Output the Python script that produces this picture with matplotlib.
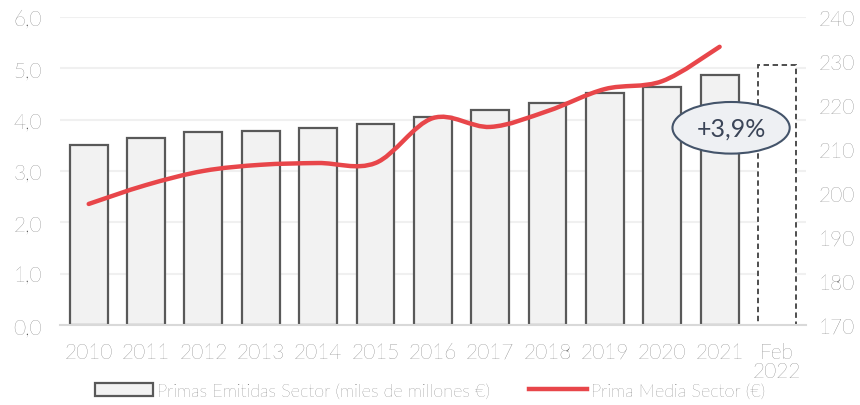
import numpy as np
import matplotlib.pyplot as plt
from matplotlib.path import Path
from matplotlib.patches import PathPatch, Patch
from matplotlib.lines import Line2D

plt.rcParams['font.family'] = ['Lato', 'DejaVu Sans']
plt.rcParams['font.weight'] = 'light'

labels = ['2010', '2011', '2012', '2013', '2014', '2015', '2016', '2017',
          '2018', '2019', '2020', '2021', 'Feb\n2022']
primas = [3.50, 3.65, 3.76, 3.78, 3.84, 3.92, 4.05, 4.19, 4.33, 4.52, 4.64, 4.87, 5.07]
prima_media = [197.5, 201.8, 205.0, 206.4, 206.8, 206.8, 217.0, 215.0, 218.6,
               223.6, 225.4, 233.2]
growth_label = '+3,9%'

txt = '#4a4a4a'
red = '#e8464a'

fig = plt.figure(figsize=(8.6, 4.06), dpi=100)
ax = fig.add_axes([0.0698, 0.197, 0.867, 0.759])
ax2 = ax.twinx()

x = np.arange(len(labels))
n_full = len(prima_media)
ax.bar(x[:n_full], primas[:n_full], width=0.66, color='#f2f2f2',
       edgecolor='#595959', linewidth=1.6, zorder=2)
ax.bar(x[n_full:], primas[n_full:], width=0.66, color='white',
       edgecolor='#404040', linewidth=1.3, linestyle=(0, (3, 2)), zorder=2)

# smooth line (Excel-like Catmull-Rom bezier through the data points)
pts = np.column_stack([x[:n_full], prima_media]).astype(float)
verts = [pts[0]]
codes = [Path.MOVETO]
for i in range(len(pts) - 1):
    p0 = pts[i - 1] if i > 0 else pts[i]
    p1, p2 = pts[i], pts[i + 1]
    p3 = pts[i + 2] if i + 2 < len(pts) else pts[i + 1]
    verts += [p1 + (p2 - p0) / 6, p2 - (p3 - p1) / 6, p2]
    codes += [Path.CURVE4] * 3
ax2.add_patch(PathPatch(Path(verts, codes), facecolor='none', edgecolor=red,
                        linewidth=3.2, capstyle='round', zorder=3))

ax.set_xlim(-0.5, len(labels) - 0.5)
ax.set_ylim(0, 6)
ax.set_yticks(np.arange(0, 6.1, 1))
ax.set_yticklabels([f'{v:.1f}'.replace('.', ',') for v in np.arange(0, 6.1, 1)])
ax2.set_ylim(170, 240)
ax2.set_yticks(range(170, 241, 10))

ax.set_xticks(x)
ax.set_xticklabels(labels, linespacing=0.95)
ax.grid(axis='y', color='#f0f0f0', linewidth=1.5, zorder=0)
ax.set_axisbelow(True)

for a in (ax, ax2):
    for s in a.spines.values():
        s.set_visible(False)
    a.tick_params(length=0, labelsize=15, labelcolor=txt)
ax.spines['bottom'].set_visible(True)
ax.spines['bottom'].set_color('#d9d9d9')
ax.spines['bottom'].set_linewidth(1.5)
ax.tick_params(axis='y', pad=13)
ax.tick_params(axis='x', pad=12)
ax2.tick_params(axis='y', pad=9)

ax.text(11.2, 3.84, growth_label, ha='center', va='center', fontsize=18,
        color='#3b4558', fontweight='normal', zorder=5,
        bbox=dict(boxstyle='ellipse,pad=0.27', facecolor='#eef0f3',
                  edgecolor='#44546a', linewidth=1.5))

handles = [Patch(facecolor='#f2f2f2', edgecolor='#595959', linewidth=1.6),
           Line2D([0], [0], color=red, linewidth=3.2)]
fig.legend(handles, ['Primas Emitidas Sector (miles de millones €)',
                     'Prima Media Sector (€)'],
           loc='center', bbox_to_anchor=(0.5, 0.035), ncol=2, frameon=False,
           fontsize=13, labelcolor=txt, handlelength=3.2, handletextpad=0.2,
           columnspacing=2.2)

fig.savefig('out.png', dpi=100)
